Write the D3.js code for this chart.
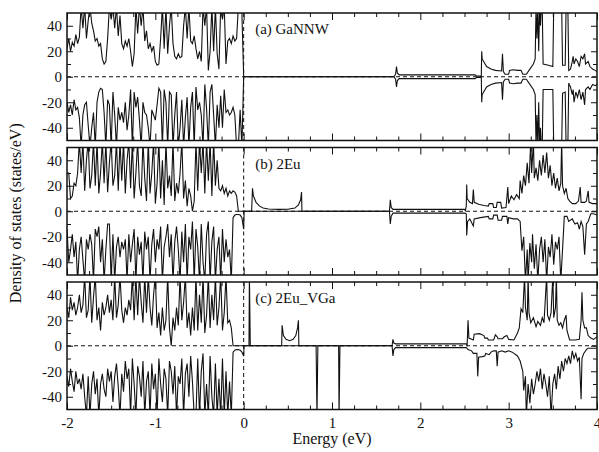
<!DOCTYPE html>
<html>
<head>
<meta charset="utf-8">
<script src="https://cdn.jsdelivr.net/npm/d3@7"></script>
<style>
  html, body { margin: 0; padding: 0; background: #fff; }
  svg { display: block; }
</style>
</head>
<body>
<div id="chart"></div>
<script>
// D3 graphic: spin-resolved density of states, three stacked panels

// Energy grid of the valence band part (eV)
const eValence = [
  -2.00, -1.98, -1.96, -1.94, -1.92, -1.90, -1.88, -1.86, -1.84, -1.82,
  -1.80, -1.78, -1.76, -1.74, -1.72, -1.70, -1.68, -1.66, -1.64, -1.62,
  -1.60, -1.58, -1.56, -1.54, -1.52, -1.50, -1.48, -1.46, -1.44, -1.42,
  -1.40, -1.38, -1.36, -1.34, -1.32, -1.30, -1.28, -1.26, -1.24, -1.22,
  -1.20, -1.18, -1.16, -1.14, -1.12, -1.10, -1.08, -1.06, -1.04, -1.02,
  -1.00, -0.98, -0.96, -0.94, -0.92, -0.90, -0.88, -0.86, -0.84, -0.82,
  -0.80, -0.78, -0.76, -0.74, -0.72, -0.70, -0.68, -0.66, -0.64, -0.62,
  -0.60, -0.58, -0.56, -0.54, -0.52, -0.50, -0.48, -0.46, -0.44, -0.42,
  -0.40, -0.38, -0.36, -0.34, -0.32, -0.30, -0.28, -0.26, -0.24, -0.22,
  -0.20, -0.18, -0.16, -0.14, -0.12, -0.10, -0.08, -0.06, -0.04, -0.02,
  0.00
];

// (a) GaNNW
const upA = [
  22, 30, 20, 27, 24, 33, 26, 31, 55, 38,
  55, 30, 44, 55, 42, 36, 28, 30, 24, 26,
  14, 10, 12, 30, 55, 45, 55, 38, 55, 32,
  48, 26, 22, 28, 24, 30, 20, 8, 18, 55,
  34, 55, 40, 55, 28, 36, 22, 26, 20, 24,
  12, 9, 10, 30, 55, 22, 55, 18, 40, 55,
  26, 16, 14, 18, 15, 16, 40, 55, 30, 55,
  28, 26, 32, 22, 14, 20, 12, 55, 40, 55,
  5, 20, 55, 20, 55, 18, 6, 55, 45, 55,
  10, 28, 30, 26, 32, 28, 30, 55, 55, 50,
  0
];
const downA = [
  -20, -28, -22, -30, -18, -26, -24, -32, -55, -30,
  -22, -20, -38, -55, -40, -28, -55, -20, -12, -9,
  -10, -28, -55, -18, -22, -55, -12, -30, -55, -24,
  -34, -28, -36, -20, -42, -30, -10, -55, -12, -24,
  -16, -34, -55, -20, -28, -30, -40, -55, -26, -30,
  -34, -22, -9, -12, -55, -10, -20, -55, -12, -14,
  -55, -30, -12, -55, -40, -18, -55, -32, -16, -55,
  -24, -12, -55, -8, -26, -20, -30, -55, -6, -25,
  -55, -12, -6, -30, -55, -22, -40, -15, -40, -10,
  -28, -26, -30, -28, -24, -30, -55, -55, -26, -55,
  0
];
const upACond = [
  [1.70, 0], [1.72, 2], [1.73, 8], [1.74, 3], [1.76, 1.5], [2.62, 1.5], [2.64, 0.5], [2.69, 0.5],
  [2.695, 20], [2.70, 14], [2.75, 8], [2.80, 6], [2.85, 5], [2.92, 4.5], [2.93, 18], [2.94, 4],
  [2.96, 2], [3.00, 2], [3.01, 5], [3.05, 5.5], [3.10, 5], [3.14, 5], [3.16, 2], [3.20, 2],
  [3.24, 6], [3.28, 10], [3.30, 14], [3.31, 55], [3.32, 30], [3.33, 55], [3.34, 20], [3.35, 55],
  [3.36, 40], [3.37, 55], [3.38, 55], [3.39, 10], [3.45, 9], [3.50, 8], [3.51, 55], [3.55, 55],
  [3.60, 55], [3.61, 9], [3.64, 9], [3.65, 55], [3.67, 55], [3.68, 5], [3.70, 6], [3.72, 12],
  [3.73, 16], [3.74, 10], [3.76, 14], [3.78, 12], [3.80, 8], [3.82, 16], [3.84, 14], [3.86, 18],
  [3.87, 10], [3.90, 12], [3.92, 8], [3.95, 6], [3.98, 5], [4.00, 4]
];
const downACond = [
  [1.70, 0], [1.72, -2], [1.73, -8], [1.74, -3], [1.76, -1.5], [2.62, -1.5], [2.64, -0.5], [2.69, -0.5],
  [2.695, -20], [2.70, -14], [2.75, -8], [2.80, -6], [2.85, -5], [2.92, -4.5], [2.93, -18], [2.94, -4],
  [2.96, -2], [3.00, -2], [3.01, -5], [3.05, -5.5], [3.10, -5], [3.14, -5], [3.16, -2], [3.20, -2],
  [3.24, -6], [3.28, -10], [3.30, -14], [3.31, -55], [3.32, -30], [3.33, -55], [3.34, -20], [3.35, -55],
  [3.36, -40], [3.37, -55], [3.38, -55], [3.39, -10], [3.45, -10], [3.50, -10], [3.51, -55], [3.55, -55],
  [3.60, -55], [3.61, -13], [3.64, -12], [3.65, -55], [3.67, -55], [3.68, -5], [3.70, -8], [3.72, -14],
  [3.73, -10], [3.74, -20], [3.76, -12], [3.78, -16], [3.80, -10], [3.82, -18], [3.84, -12], [3.86, -22],
  [3.87, -10], [3.90, -8], [3.92, -10], [3.95, -6], [3.98, -7], [4.00, -6]
];

// (b) 2Eu
const upB = [
  30, 30, 10, 12, 22, 20, 30, 55, 30, 55,
  16, 40, 55, 18, 28, 55, 20, 55, 14, 30,
  55, 22, 55, 15, 38, 55, 20, 28, 55, 16,
  55, 24, 55, 14, 40, 55, 18, 55, 10, 30,
  55, 20, 12, 55, 26, 8, 55, 14, 30, 55,
  6, 22, 55, 10, 40, 5, 55, 18, 28, 12,
  55, 8, 22, 14, 30, 55, 10, 24, 4, 18,
  12, 0, 8, 55, 16, 55, 30, 55, 14, 55,
  24, 55, 12, 55, 20, 40, 18, 16, 20, 14,
  18, 12, 16, 14, 16, 15, 12, 0, 0, 0,
  0
];
const downB = [
  -14, -40, -30, -18, -36, -24, -55, -30, -20, -38,
  -55, -22, -30, -18, -26, -55, -14, -20, -12, -40,
  -22, -55, -30, -10, -10, -55, -18, -55, -28, -20,
  -36, -24, -30, -22, -55, -18, -40, -26, -14, -55,
  -20, -34, -24, -55, -16, -30, -20, -55, -26, -14,
  -40, -22, -30, -12, -55, -28, -20, -10, -36, -18,
  -55, -24, -12, -30, -55, -16, -40, -10, -55, -20,
  -30, -8, -55, -14, -28, -55, -10, -40, -55, -18,
  -8, -55, -24, -12, -55, -30, -20, -55, -14, -40,
  -22, -36, -30, -55, -5, -3, -2.5, -2.5, -3, -5,
  -14
];
const upBCond = [
  [0.09, 0], [0.10, 18], [0.11, 12], [0.14, 7], [0.18, 4], [0.22, 2.5], [0.28, 1.8], [0.40, 1.5],
  [0.50, 1.6], [0.58, 2.5], [0.62, 5], [0.645, 9], [0.655, 15], [0.66, 0], [1.65, 0], [1.655, 4],
  [1.66, 9], [1.67, 3], [1.69, 1.5], [2.50, 1.5], [2.51, 0.5], [2.52, 4], [2.525, 21], [2.53, 10],
  [2.56, 7], [2.59, 6], [2.60, 17], [2.61, 7], [2.66, 5.5], [2.72, 4.5], [2.77, 4], [2.78, 6],
  [2.82, 6], [2.83, 3], [2.86, 3], [2.87, 7], [2.91, 7], [2.92, 2.5], [2.97, 3], [2.99, 19],
  [3.00, 6], [3.03, 12], [3.06, 9], [3.09, 13], [3.12, 10], [3.13, 24], [3.15, 14], [3.17, 28],
  [3.19, 20], [3.21, 38], [3.23, 22], [3.25, 55], [3.26, 30], [3.28, 55], [3.29, 26], [3.31, 34],
  [3.33, 24], [3.35, 40], [3.37, 28], [3.39, 44], [3.41, 30], [3.43, 46], [3.45, 26], [3.47, 36],
  [3.49, 20], [3.51, 30], [3.53, 18], [3.55, 26], [3.57, 16], [3.59, 22], [3.60, 55], [3.61, 20],
  [3.63, 14], [3.65, 18], [3.67, 10], [3.69, 8], [3.72, 6], [3.76, 6], [3.79, 8], [3.81, 19],
  [3.82, 7], [3.86, 7], [3.88, 8], [3.90, 16], [3.91, 7], [3.95, 6], [4.00, 6]
];
const downBCond = [
  [0.005, 0], [1.65, 0], [1.655, -5], [1.66, -10], [1.67, -4], [1.69, -1.5], [2.50, -1.5], [2.52, -2],
  [2.525, -19], [2.535, -8], [2.56, -6], [2.60, -11.5], [2.61, -6], [2.68, -5], [2.77, -4], [2.78, -6],
  [2.82, -6], [2.83, -3], [2.87, -3], [2.88, -7], [2.92, -7], [2.93, -4], [2.98, -4], [2.99, -10],
  [3.00, -5], [3.05, -6], [3.10, -6], [3.13, -8], [3.15, -31], [3.17, -20], [3.19, -55], [3.21, -30],
  [3.22, -55], [3.24, -25], [3.26, -40], [3.27, -18], [3.29, -45], [3.31, -26], [3.33, -55], [3.35, -30],
  [3.37, -20], [3.39, -40], [3.41, -22], [3.43, -55], [3.45, -28], [3.47, -36], [3.49, -18], [3.51, -42],
  [3.53, -24], [3.55, -30], [3.57, -20], [3.59, -55], [3.61, -30], [3.63, -4], [3.66, -4], [3.68, -8],
  [3.72, -6], [3.75, -10], [3.78, -9], [3.80, -14], [3.82, -8], [3.84, -12], [3.86, -34], [3.88, -10],
  [3.90, -8], [3.93, -2], [3.96, -2], [4.00, -3]
];

// (c) 2Eu_VGa
const upC = [
  30, 22, 38, 28, 34, 24, 30, 40, 26, 32,
  55, 22, 28, 55, 18, 38, 55, 20, 30, 12,
  34, 24, 30, 40, 26, 36, 20, 55, 22, 32,
  55, 28, 18, 30, 24, 36, 28, 55, 20, 55,
  24, 55, 34, 18, 55, 26, 55, 30, 16, 40,
  55, 14, 26, 8, 30, 12, 20, 55, 14, 0,
  22, 12, 30, 16, 55, 20, 34, 55, 14, 26,
  8, 30, 12, 55, 12, 40, 18, 55, 10, 24,
  55, 14, 40, 20, 55, 16, 30, 55, 12, 26,
  55, 18, 20, 14, 0, 0, 0, 0, 0, 0,
  0
];
const downC = [
  -24, -32, -18, -28, -36, -20, -30, -26, -34, -22,
  -40, -55, -24, -55, -30, -20, -38, -26, -55, -30,
  -22, -34, -40, -18, -28, -20, -44, -24, -14, -32,
  -55, -22, -36, -12, -26, -18, -55, -10, -30, -55,
  -16, -24, -40, -12, -55, -28, -20, -55, -14, -34,
  -22, -55, -10, -30, -44, -18, -26, -55, -12, -20,
  -38, -16, -55, -24, -30, -10, -55, -22, -14, -40,
  -8, -28, -55, -55, -10, -55, -20, -6, -55, -30,
  -55, -8, -40, -55, -14, -55, -26, -55, -10, -55,
  -20, -55, -28, -55, -5, -3.5, -3, -3, -3.5, -5,
  -8
];
const upCCond = [
  [0.06, 0], [0.065, 55], [0.075, 0], [0.43, 0], [0.435, 16], [0.45, 8], [0.48, 5], [0.52, 4],
  [0.56, 5], [0.59, 8], [0.61, 14], [0.62, 20], [0.625, 0], [1.68, 0], [1.69, 5], [1.70, 2],
  [1.72, 1.5], [2.52, 1.5], [2.53, 0.5], [2.54, 20], [2.55, 6], [2.60, 4.5], [2.61, 9], [2.67, 9.5],
  [2.72, 8], [2.73, 6], [2.76, 6], [2.77, 4.5], [2.83, 4.5], [2.85, 8.5], [2.87, 7], [2.88, 5.5],
  [2.93, 5.5], [2.95, 7], [2.98, 8], [3.00, 5], [3.06, 4.5], [3.10, 10], [3.12, 14], [3.14, 29],
  [3.16, 26], [3.18, 55], [3.19, 30], [3.21, 20], [3.22, 55], [3.23, 26], [3.25, 18], [3.28, 22],
  [3.31, 15], [3.33, 19], [3.36, 16], [3.38, 22], [3.40, 18], [3.43, 55], [3.44, 24], [3.46, 20],
  [3.48, 26], [3.50, 55], [3.51, 22], [3.53, 30], [3.54, 55], [3.55, 20], [3.57, 16], [3.59, 18],
  [3.61, 14], [3.63, 20], [3.65, 24], [3.66, 12], [3.69, 4.5], [3.75, 4.5], [3.80, 5], [3.82, 20],
  [3.83, 42], [3.84, 20], [3.86, 14], [3.88, 14], [3.90, 8], [3.93, 6], [3.96, 5], [4.00, 7]
];
const downCCond = [
  [0.005, 0], [0.82, 0], [0.83, -55], [0.84, 0], [1.075, 0], [1.08, -55], [1.09, 0], [1.68, 0],
  [1.69, -8], [1.70, -3], [1.72, -1.5], [2.52, -1.5], [2.54, -3], [2.58, -4], [2.60, -6], [2.64, -6],
  [2.65, -24], [2.66, -9], [2.70, -8.5], [2.73, -8], [2.74, -6], [2.78, -7], [2.80, -5], [2.83, -4],
  [2.86, -4], [2.87, -16], [2.88, -5], [2.92, -4], [2.96, -5], [3.00, -4], [3.04, -5], [3.10, -8],
  [3.13, -12], [3.16, -20], [3.17, -35], [3.19, -24], [3.20, -55], [3.22, -30], [3.24, -45], [3.26, -26],
  [3.28, -38], [3.30, -30], [3.32, -20], [3.34, -28], [3.36, -18], [3.38, -34], [3.40, -22], [3.42, -30],
  [3.44, -40], [3.46, -24], [3.48, -55], [3.50, -30], [3.52, -22], [3.54, -34], [3.56, -16], [3.58, -26],
  [3.60, -12], [3.62, -20], [3.64, -10], [3.66, -14], [3.68, -8], [3.70, -14], [3.72, -4], [3.74, -10],
  [3.76, -6], [3.78, -12], [3.80, -9], [3.82, -42], [3.83, -10], [3.85, -6], [3.88, -3], [3.90, -2],
  [3.95, -2], [4.00, -2]
];

const panelLabels = ["(a) GaNNW", "(b) 2Eu", "(c) 2Eu_VGa"];
const xMajor = [-2, -1, 0, 1, 2, 3, 4];
const xMinor = [-1.75, -1.5, -1.25, -0.75, -0.5, -0.25, 0.25, 0.5, 0.75, 1.25, 1.5, 1.75,
  2.25, 2.5, 2.75, 3.25, 3.5, 3.75];
const yMajor = [-40, -20, 0, 20, 40];
const yMinor = [-30, -10, 10, 30];

const serifFont = "'Liberation Serif', 'Times New Roman', 'DejaVu Serif', serif";

document.addEventListener("DOMContentLoaded", () => display());

function series(vals, cond) {
  return eValence.map((e, i) => [e, vals[i]]).concat(cond);
}

function display() {
  const [w, h] = [599, 452];
  const [left, right] = [67, 597];
  const panelTops = [13, 147.5, 282];
  const panelH = 127.5;

  const panels = [
    {up: series(upA, upACond), down: series(downA, downACond)},
    {up: series(upB, upBCond), down: series(downB, downBCond)},
    {up: series(upC, upCCond), down: series(downC, downCCond)}
  ];

  const xScale = d3.scaleLinear().
  domain([-2, 4]).
  range([left, right]);

  const svg = d3.select("#chart").
  append("svg").
  attr("width", w).
  attr("height", h);

  panels.forEach((p, i) => {
    const top = panelTops[i];
    const bottom = top + panelH;
    const yScale = d3.scaleLinear().
    domain([-50, 50]).
    range([bottom, top]);

    const g = svg.append("g").attr("class", "panel");

    g.append("clipPath").
    attr("id", "clip" + i).
    append("rect").
    attr("x", left).
    attr("y", top).
    attr("width", right - left).
    attr("height", panelH);

    // reference lines: E = 0 level and Fermi level
    g.append("line").
    attr("x1", left).
    attr("x2", right).
    attr("y1", yScale(0)).
    attr("y2", yScale(0)).
    attr("stroke", "#111").
    attr("stroke-width", 1).
    attr("stroke-dasharray", "4,3");

    g.append("line").
    attr("x1", xScale(0)).
    attr("x2", xScale(0)).
    attr("y1", top).
    attr("y2", bottom).
    attr("stroke", "#111").
    attr("stroke-width", 1).
    attr("stroke-dasharray", "4,3");

    const line = d3.line().
    x(d => xScale(d[0])).
    y(d => yScale(d[1]));

    [p.up, p.down].forEach(s => {
      g.append("path").
      datum(s).
      attr("clip-path", `url(#clip${i})`).
      attr("fill", "none").
      attr("stroke", "#111").
      attr("stroke-width", 1.1).
      attr("d", line);
    });

    // ticks (inward on all four sides)
    const clean = sel => sel.select(".domain").remove();

    g.append("g").
    attr("transform", `translate(0,${bottom})`).
    call(d3.axisBottom(xScale).tickValues(xMajor).tickSizeInner(-7).tickSizeOuter(0).
    tickPadding(8).tickFormat(i === 2 ? d => String(d) : "")).
    call(clean);
    g.append("g").
    attr("transform", `translate(0,${bottom})`).
    call(d3.axisBottom(xScale).tickValues(xMinor).tickSize(-4).tickFormat("")).
    call(clean);
    g.append("g").
    attr("transform", `translate(0,${top})`).
    call(d3.axisTop(xScale).tickValues(xMajor).tickSize(-7).tickFormat("")).
    call(clean);
    g.append("g").
    attr("transform", `translate(0,${top})`).
    call(d3.axisTop(xScale).tickValues(xMinor).tickSize(-4).tickFormat("")).
    call(clean);

    g.append("g").
    attr("transform", `translate(${left},0)`).
    call(d3.axisLeft(yScale).tickValues(yMajor).tickSizeInner(-6).tickSizeOuter(0).
    tickPadding(5).tickFormat(d => String(d))).
    call(clean);
    g.append("g").
    attr("transform", `translate(${left},0)`).
    call(d3.axisLeft(yScale).tickValues(yMinor).tickSize(-4).tickFormat("")).
    call(clean);
    g.append("g").
    attr("transform", `translate(${right},0)`).
    call(d3.axisRight(yScale).tickValues(yMajor).tickSize(-6).tickFormat("")).
    call(clean);
    g.append("g").
    attr("transform", `translate(${right},0)`).
    call(d3.axisRight(yScale).tickValues(yMinor).tickSize(-4).tickFormat("")).
    call(clean);

    g.selectAll(".tick line").attr("stroke", "#111");
    g.selectAll(".tick text").
    style("font-family", serifFont).
    style("font-size", "15px").
    attr("fill", "#111");

    // frame
    g.append("rect").
    attr("x", left).
    attr("y", top).
    attr("width", right - left).
    attr("height", panelH).
    attr("fill", "none").
    attr("stroke", "#111").
    attr("stroke-width", 1.5);

    g.append("text").
    attr("x", xScale(0.13)).
    attr("y", top + 21).
    style("font-family", serifFont).
    style("font-size", "15px").
    attr("fill", "#111").
    text(panelLabels[i]);
  });

  svg.append("text").
  attr("x", (left + right) / 2).
  attr("y", 444).
  attr("text-anchor", "middle").
  style("font-family", serifFont).
  style("font-size", "16px").
  attr("fill", "#111").
  text("Energy (eV)");

  svg.append("text").
  attr("transform", `translate(21,${(panelTops[0] + panelTops[2] + panelH) / 2 + 2}) rotate(-90)`).
  attr("text-anchor", "middle").
  style("font-family", serifFont).
  style("font-size", "16px").
  attr("fill", "#111").
  text("Density of states (states/eV)");
}
</script>
</body>
</html>
